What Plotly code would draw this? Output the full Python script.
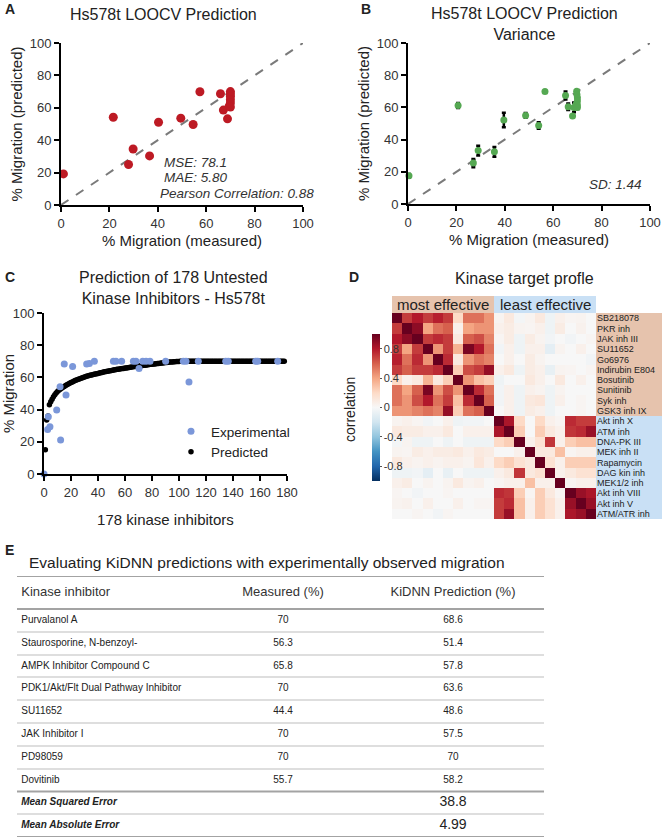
import plotly.graph_objects as go

# Canvas size (px) - used to turn pixel layout into paper fractions
W, H = 662, 837

def fx(p):
    return p / W

def fy(p):
    return 1 - p / H

# ---------------- Data ----------------
# A: LOOCV prediction
a_measured  = [1, 21.6, 27.9, 29.8, 36.6, 40.3, 49.5, 54.6, 57.4, 65.9, 67.1, 68.8, 69.5, 70, 70, 70, 70, 70, 70]
a_predicted = [19.2, 54.2, 25, 34.6, 30.3, 51.1, 53.6, 49.7, 69.9, 68.7, 58.6, 53.2, 61, 70, 68.5, 67, 65, 63, 60.5]
a_stats = ['MSE: 78.1', 'MAE: 5.80', 'Pearson Correlation: 0.88']

# B: LOOCV prediction variance
b_measured  = [0.4, 20.7, 27, 29, 35.7, 39.6, 48.6, 54, 56.6, 65.1, 66.2, 68, 68.6, 69.5, 69.7, 69.8, 70, 70, 70, 70]
b_predicted = [17.5, 61.2, 25.4, 33.2, 32.4, 52.2, 55, 48.7, 69.9, 67.4, 60.4, 54.6, 60, 62, 70, 68, 66, 64, 61.5, 60]
b_sd        = [1.2, 1.5, 2.5, 3, 3, 4.5, 1.5, 2, 0, 2.5, 2, 0, 3, 1, 0, 0.5, 0.5, 1, 1, 1]
b_stat = 'SD: 1.44'

# C: prediction of 178 untested inhibitors
c_exp_x = [0, 2.7, 3.2, 4.4, 9.4, 11.9, 12.3, 15, 16.3, 21.2, 31.6, 33.6, 37.3, 51.4, 53.3, 57.5,
           66.2, 68.1, 70.4, 73.1, 75.6, 78.5, 90.1, 103.2, 105.2, 107.4, 114.3, 134.6, 136.5,
           156.8, 158.3, 173.1]
c_exp_y = [0, 27.7, 35.6, 29.4, 39.8, 54.2, 21.1, 68.3, 49, 66.7, 68.3, 68.7, 70, 70, 70, 70,
           70, 70, 65.6, 70, 70, 70, 70, 70, 70, 57.2, 70, 70, 70,
           70, 70, 70]
c_pred_y = [
    15.0, 33.5, 36.0, 43.0, 44.8, 46.5, 48.0, 49.2, 50.3, 51.2,
    52.0, 52.7, 53.3, 53.9, 54.4, 54.9, 55.4, 55.9, 56.4, 56.8,
    57.2, 57.6, 58.0, 58.4, 58.7, 59.0, 59.3, 59.6, 59.9, 60.2,
    60.5, 60.8, 61.0, 61.3, 61.5, 61.7, 61.9, 62.1, 62.3, 62.5,
    62.7, 62.9, 63.1, 63.3, 63.5, 63.6, 63.8, 64.0, 64.2, 64.3,
    64.5, 64.7, 64.8, 65.0, 65.1, 65.2, 65.4, 65.5, 65.6, 65.8,
    65.9, 66.0, 66.2, 66.3, 66.5, 66.6, 66.7, 66.8, 67.0, 67.1,
    67.2, 67.3, 67.4, 67.5, 67.6, 67.7, 67.8, 68.0, 68.1, 68.2,
    68.3, 68.4, 68.5, 68.6, 68.7, 68.8, 68.9, 69.0, 69.1, 69.2,
    69.3, 69.4, 69.5, 69.5, 69.6, 69.7, 69.7, 69.8, 69.8, 69.9,
    70.0, 70.0, 70.0, 70.0, 70.0, 70.0, 70.0, 70.0, 70.0, 70.0,
    70.0, 70.0, 70.0, 70.0, 70.0, 70.0, 70.0, 70.0, 70.0, 70.0,
    70.0, 70.0, 70.0, 70.0, 70.0, 70.0, 70.0, 70.0, 70.0, 70.0,
    70.0, 70.0, 70.0, 70.0, 70.0, 70.0, 70.0, 70.0, 70.0, 70.0,
    70.0, 70.0, 70.0, 70.0, 70.0, 70.0, 70.0, 70.0, 70.0, 70.0,
    70.0, 70.0, 70.0, 70.0, 70.0, 70.0, 70.0, 70.0, 70.0, 70.0,
    70.0, 70.0, 70.0, 70.0, 70.0, 70.0, 70.0, 70.0, 70.0, 70.0,
    70.0, 70.0, 70.0, 70.0, 70.0, 70.0, 70.0, 70.0,
]
c_pred_x = list(range(1, len(c_pred_y) + 1))

# D: kinase target profile correlation
kinase_labels = ['SB218078', 'PKR inh', 'JAK inh III', 'SU11652', 'Go6976', 'Indirubin E804',
                 'Bosutinib', 'Sunitinib', 'Syk inh', 'GSK3 inh IX',
                 'Akt inh X', 'ATM inh', 'DNA-PK III', 'MEK inh II', 'Rapamycin', 'DAG kin inh',
                 'MEK1/2 inh', 'Akt inh VIII', 'Akt inh V', 'ATM/ATR inh']
corr_most = [
    [1.00, 0.70, 0.80, 0.70, 0.78, 0.70, 0.20, 0.55, 0.55, 0.45],
    [0.70, 1.00, 0.90, 0.40, 0.55, 0.60, 0.05, 0.40, 0.45, 0.45],
    [0.80, 0.90, 1.00, 0.70, 0.75, 0.70, 0.10, 0.60, 0.65, 0.50],
    [0.70, 0.40, 0.70, 1.00, 0.45, 0.70, 0.35, 0.95, 0.80, 0.55],
    [0.78, 0.55, 0.75, 0.45, 1.00, 0.75, 0.10, 0.45, 0.55, 0.50],
    [0.70, 0.60, 0.70, 0.70, 0.75, 1.00, 0.25, 0.65, 0.70, 0.88],
    [0.20, 0.05, 0.10, 0.35, 0.10, 0.25, 1.00, 0.45, 0.30, 0.25],
    [0.55, 0.40, 0.60, 0.95, 0.45, 0.65, 0.45, 1.00, 0.75, 0.55],
    [0.55, 0.45, 0.65, 0.80, 0.55, 0.70, 0.30, 0.75, 1.00, 0.60],
    [0.45, 0.45, 0.50, 0.55, 0.50, 0.88, 0.25, 0.55, 0.60, 1.00],
]
corr_least = [
    [1.00, 0.82, 0.20, 0.00, 0.20, 0.05, 0.02, 0.75, 0.70, 0.70],
    [0.82, 1.00, 0.25, 0.00, 0.25, 0.10, 0.05, 0.72, 0.75, 0.87],
    [0.20, 0.25, 1.00, 0.05, 0.15, 0.72, 0.05, 0.25, 0.30, 0.30],
    [0.00, 0.00, 0.05, 1.00, 0.10, 0.10, 0.30, 0.02, 0.05, 0.05],
    [0.20, 0.25, 0.15, 0.10, 1.00, 0.15, 0.05, 0.25, 0.25, 0.25],
    [0.05, 0.10, 0.72, 0.10, 0.15, 1.00, 0.05, 0.10, 0.15, 0.15],
    [0.02, 0.05, 0.05, 0.30, 0.05, 0.05, 1.00, 0.02, 0.05, 0.05],
    [0.75, 0.72, 0.25, 0.02, 0.25, 0.10, 0.02, 1.00, 0.87, 0.82],
    [0.70, 0.75, 0.30, 0.05, 0.25, 0.15, 0.05, 0.87, 1.00, 0.87],
    [0.70, 0.87, 0.30, 0.05, 0.25, 0.15, 0.05, 0.82, 0.87, 1.00],
]
# most effective (rows) vs least effective (cols)
corr_cross = [
    [ 0.03,  0.10, -0.02,  0.03,  0.10, -0.05,  0.05,  0.02,  0.03,  0.00],
    [ 0.05,  0.08,  0.03,  0.02,  0.05, -0.05,  0.08,  0.00,  0.04,  0.00],
    [ 0.02,  0.08, -0.05,  0.08,  0.03, -0.03,  0.00, -0.03,  0.00,  0.02],
    [-0.03,  0.05, -0.05,  0.05,  0.05, -0.10,  0.03,  0.00,  0.05,  0.00],
    [ 0.00,  0.05,  0.00,  0.08,  0.03,  0.00,  0.00,  0.00,  0.00, -0.03],
    [ 0.05,  0.10, -0.05,  0.08,  0.05, -0.08,  0.03,  0.02,  0.00,  0.02],
    [-0.05,  0.00,  0.00,  0.10,  0.05,  0.00,  0.10,  0.00,  0.05,  0.00],
    [-0.03,  0.05, -0.05,  0.05,  0.03, -0.05,  0.03,  0.00,  0.00,  0.00],
    [-0.03,  0.05, -0.05,  0.10,  0.12, -0.05,  0.05,  0.00,  0.02,  0.00],
    [ 0.00,  0.05, -0.05,  0.08,  0.05, -0.05,  0.00,  0.00,  0.02,  0.00],
]

# E: table
inhibitors = ['Purvalanol A', 'Staurosporine, N-benzoyl-', 'AMPK Inhibitor Compound C',
              'PDK1/Akt/Flt Dual Pathway Inhibitor', 'SU11652', 'JAK Inhibitor I',
              'PD98059', 'Dovitinib']
measured = [70, 56.3, 65.8, 70, 44.4, 70, 70, 55.7]
kidnn    = [68.6, 51.4, 57.8, 63.6, 48.6, 57.5, 70, 58.2]
mse, mae = 38.8, 4.99

# ---------------- Build ----------------
FONT = 'Liberation Sans, Arial, sans-serif'
RED, GREEN, BLUE = '#bd1a24', '#55a852', '#7b97d9'

# full correlation matrix from the blocks
n = len(corr_most)
corr = []
for i in range(n):
    corr.append(corr_most[i] + corr_cross[i])
for i in range(n):
    corr.append([corr_cross[j][i] for j in range(n)] + corr_least[i])

rdbu = ['#053061', '#2166ac', '#4393c3', '#92c5de', '#d1e5f0', '#f7f7f7',
        '#fddbc7', '#f4a582', '#d6604d', '#b2182b', '#67001f']
colorscale = [[k / 10, c] for k, c in enumerate(rdbu)]

fig = go.Figure()

# A
fig.add_trace(go.Scatter(x=[0, 100], y=[0, 100], mode='lines', xaxis='x', yaxis='y',
                         line=dict(color='#7a7a7a', width=2, dash='dash'), showlegend=False))
fig.add_trace(go.Scatter(x=a_measured, y=a_predicted, mode='markers', xaxis='x', yaxis='y',
                         marker=dict(color=RED, size=9), cliponaxis=False, showlegend=False))

# B
fig.add_trace(go.Scatter(x=[0, 100], y=[0, 100], mode='lines', xaxis='x2', yaxis='y2',
                         line=dict(color='#7a7a7a', width=2, dash='dash'), showlegend=False))
fig.add_trace(go.Scatter(x=b_measured, y=b_predicted, mode='markers', xaxis='x2', yaxis='y2',
                         error_y=dict(type='data', array=b_sd, color='black', thickness=2.5, width=2),
                         marker=dict(color=GREEN, size=7), cliponaxis=False, showlegend=False))

# C
fig.add_trace(go.Scatter(x=c_pred_x, y=c_pred_y, mode='markers', xaxis='x3', yaxis='y3',
                         marker=dict(color='black', size=5.5), name='Predicted',
                         legendrank=2, cliponaxis=False))
fig.add_trace(go.Scatter(x=c_exp_x, y=c_exp_y, mode='markers', xaxis='x3', yaxis='y3',
                         marker=dict(color=BLUE, size=7), name='Experimental',
                         legendrank=1, cliponaxis=False))

# D
fig.add_trace(go.Heatmap(z=corr, x=list(range(2 * n)), y=list(range(2 * n)),
                         xaxis='x4', yaxis='y4', colorscale=colorscale, zmin=-1, zmax=1,
                         showscale=True,
                         colorbar=dict(x=fx(362), xanchor='left', y=fy(407.5), yanchor='middle',
                                       len=(491 - 324) / H, thickness=8, outlinewidth=0,
                                       tickvals=[-0.8, -0.4, 0, 0.4, 0.8],
                                       ticktext=['-0.8', '-0.4', '0', '0.4', '0.8'],
                                       ticks='outside', ticklen=2, tickcolor='#555',
                                       tickfont=dict(size=11, color='#333'))))

# E - table drawn as text on a hidden axis
row_y = [i + 0.5 for i in range(len(inhibitors) + 2)]
header_y = -0.725
col_x = [0.008, (283 - 17) / 527, (453 - 17) / 527]
fig.add_trace(go.Scatter(x=col_x, y=[header_y] * 3, mode='text', xaxis='x5', yaxis='y5',
                         text=['Kinase inhibitor', 'Measured (%)', 'KiDNN Prediction (%)'],
                         textposition=['middle right', 'middle center', 'middle center'],
                         textfont=dict(size=13, color='#333'), showlegend=False))
fig.add_trace(go.Scatter(x=[col_x[0]] * len(row_y), y=row_y, mode='text', xaxis='x5', yaxis='y5',
                         text=inhibitors + ['<b><i>Mean Squared Error</i></b>',
                                            '<b><i>Mean Absolute Error</i></b>'],
                         textposition='middle right',
                         textfont=dict(size=10, color='#222'), showlegend=False))
fig.add_trace(go.Scatter(x=[col_x[1]] * len(measured), y=row_y[:len(measured)], mode='text',
                         xaxis='x5', yaxis='y5', text=[f'{v:g}' for v in measured],
                         textposition='middle center',
                         textfont=dict(size=10, color='#222'), showlegend=False))
fig.add_trace(go.Scatter(x=[col_x[2]] * len(row_y), y=row_y, mode='text', xaxis='x5', yaxis='y5',
                         text=[f'{v:g}' for v in kidnn + [mse, mae]],
                         textposition='middle center',
                         textfont=dict(size=[10] * len(kidnn) + [14, 14], color='#222'),
                         showlegend=False))

# ---------------- Layout ----------------
def scatter_axis(domain, rng, dtick, title, standoff, anchor):
    return dict(domain=domain, range=rng, dtick=dtick, tick0=0, anchor=anchor,
                showline=True, linecolor='black', linewidth=2, mirror=False,
                ticks='outside', ticklen=5, tickwidth=2, tickcolor='black',
                tickfont=dict(size=13, color='#333'), showgrid=False, zeroline=False,
                title=dict(text=title, font=dict(size=15, color='#222'), standoff=standoff),
                automargin=False, fixedrange=True)

def paper_text(text, px, py, size, xanchor='center', **kw):
    return dict(text=text, x=fx(px), y=fy(py), xref='paper', yref='paper', showarrow=False,
                xanchor=xanchor, yanchor='middle', font=dict(size=size, color='#222'), **kw)

annotations = [
    paper_text('<b>A</b>', 3, 9, 14, 'left'),
    paper_text('<b>B</b>', 359, 9, 14, 'left'),
    paper_text('<b>C</b>', 3, 277, 14, 'left'),
    paper_text('<b>D</b>', 347, 277, 14, 'left'),
    paper_text('<b>E</b>', 3, 550, 14, 'left'),
    paper_text('Hs578t LOOCV Prediction', 163, 15, 16),
    paper_text('Hs578t LOOCV Prediction<br>Variance', 524, 24, 16),
    paper_text('Prediction of 178 Untested<br>Kinase Inhibitors - Hs578t', 173, 288, 16),
    paper_text('Kinase target profle', 524, 279, 16),
    paper_text('correlation', 350, 410, 14, textangle=-90),
    paper_text('Evaluating KiDNN predictions with experimentally observed migration',
               27, 562, 15.5, 'left'),
    dict(text='most effective', x=4.5, y=fy(304), xref='x4', yref='paper', xanchor='center',
         yanchor='middle', showarrow=False, font=dict(size=15, color='#222')),
    dict(text='least effective', x=14.5, y=fy(304), xref='x4', yref='paper', xanchor='center',
         yanchor='middle', showarrow=False, font=dict(size=15, color='#222')),
]
# statistics text in A and B
for txt, xv, yv in zip(a_stats, [41.7, 41.9, 40.1], [26, 16.7, 7.4]):
    annotations.append(dict(text=f'<i>{txt}</i>', x=xv, y=yv, xref='x', yref='y',
                            xanchor='left', yanchor='middle', showarrow=False,
                            font=dict(size=13.5, color='#333')))
annotations.append(dict(text=f'<i>{b_stat}</i>', x=74, y=12.4, xref='x2', yref='y2',
                        xanchor='left', yanchor='middle', showarrow=False,
                        font=dict(size=13.5, color='#333')))

shapes = [
    # header bars over heatmap columns
    dict(type='rect', xref='x4', yref='paper', x0=-0.5, x1=9.5, y0=fy(313), y1=fy(296),
         fillcolor='#e6c3ad', line=dict(width=0), layer='below'),
    dict(type='rect', xref='x4', yref='paper', x0=9.5, x1=19.5, y0=fy(313), y1=fy(296),
         fillcolor='#c9e0f5', line=dict(width=0), layer='below'),
    # row label backgrounds
    dict(type='rect', xref='paper', yref='y4', x0=fx(596), x1=1, y0=-0.5, y1=9.5,
         fillcolor='#e6c3ad', line=dict(width=0), layer='below'),
    dict(type='rect', xref='paper', yref='y4', x0=fx(596), x1=1, y0=9.5, y1=19.5,
         fillcolor='#c9e0f5', line=dict(width=0), layer='below'),
]
# darker table rules: top, under header, above MSE, bottom
for yv in [header_y * 2, 0, 8, 10]:
    shapes.append(dict(type='line', xref='x5 domain', yref='y5', x0=0, x1=1, y0=yv, y1=yv,
                       line=dict(color='#a3a3a3', width=2)))

fig.update_layout(
    width=W, height=H,
    margin=dict(l=0, r=0, t=0, b=0),
    plot_bgcolor='white', paper_bgcolor='white',
    font=dict(family=FONT, color='#222'),
    xaxis=scatter_axis([fx(61), fx(303)], [0, 100], 20, '% Migration (measured)', 6, 'y'),
    yaxis=scatter_axis([fy(205), fy(43)], [0, 100], 20, '% Migration (predicted)', 3, 'x'),
    xaxis2=scatter_axis([fx(408), fx(650)], [0, 100], 20, '% Migration (measured)', 6, 'y2'),
    yaxis2=scatter_axis([fy(204), fy(43)], [0, 100], 20, '% Migration (predicted)', 3, 'x2'),
    xaxis3=scatter_axis([fx(44), fx(287)], [0, 180], 20, '178 kinase inhibitors', 16, 'y3'),
    yaxis3=scatter_axis([fy(474), fy(313)], [0, 100], 20, '% Migration', 3, 'x3'),
    xaxis4=dict(domain=[fx(392), fx(596)], anchor='y4', visible=False, range=[-0.5, 19.5]),
    yaxis4=dict(domain=[fy(519), fy(313)], anchor='x4', range=[19.5, -0.5], side='right',
                tickvals=list(range(2 * n)), ticktext=kinase_labels, ticks='',
                showline=False, showgrid=False, zeroline=False,
                tickfont=dict(size=9, color='#222'), automargin=False),
    xaxis5=dict(domain=[fx(17), fx(544)], anchor='y5', range=[0, 1], visible=False),
    yaxis5=dict(domain=[0, fy(576)], anchor='x5', range=[10, header_y * 2],
                tickvals=[1, 2, 3, 4, 5, 6, 7, 9], showticklabels=False, ticks='',
                showgrid=True, gridcolor='#dedede', gridwidth=2, zeroline=False,
                showline=False, automargin=False),
    legend=dict(x=fx(171), y=fy(416), xanchor='left', yanchor='top',
                bgcolor='rgba(0,0,0,0)', font=dict(size=13.5, color='#222'),
                itemwidth=30, tracegroupgap=0),
    annotations=annotations,
    shapes=shapes,
    template=None,
)

# page body has a default margin; drop it so the figure fills the window
fig.write_html('out.html', config={'displayModeBar': False},
               post_script="document.body.style.margin = '0';")
